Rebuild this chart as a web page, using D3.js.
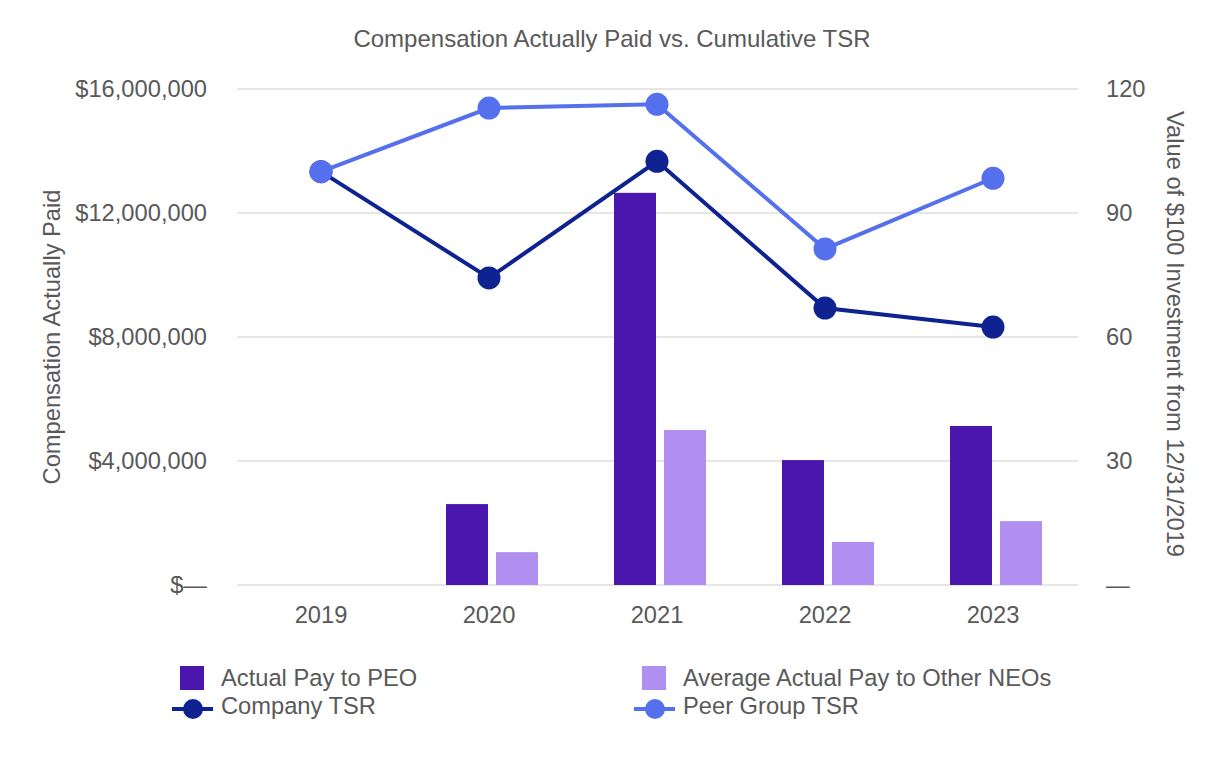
<!DOCTYPE html>
<html><head><meta charset="utf-8">
<script src="https://cdn.jsdelivr.net/npm/d3@7/dist/d3.min.js"></script>
<style>body{margin:0;background:#fff;}svg{display:block;font-family:"Liberation Sans",Arial,sans-serif;}</style>
</head><body><svg id="c" width="1226" height="760"></svg>
<script>
const years = ["2019","2020","2021","2022","2023"];
const peoPay = [0, 2610000, 12650000, 4030000, 5130000];
const neoPay = [0, 1060000, 5000000, 1390000, 2060000];
const companyTSR = [100, 74.3, 102.5, 67.0, 62.4];
const peerTSR = [100, 115.4, 116.3, 81.3, 98.4];
const leftTicks = [0, 4000000, 8000000, 12000000, 16000000];
const rightTicks = [0, 30, 60, 90, 120];

const C = {peo:"#4b16ad", neo:"#b18ff0", comp:"#0e2290", peer:"#5470ec", text:"#595959", grid:"#e6e6e6"};
const FS = 23.7;
const svg = d3.select("#c");
const L = 237, R = 1077, T = 89, B = 585;
const x = d3.scaleBand().domain(years).range([L, R]);
const yL = d3.scaleLinear().domain([0, 16000000]).range([B, T]);
const yR = d3.scaleLinear().domain([0, 120]).range([B, T]);
const cx = d => x(d) + x.bandwidth()/2;

svg.append("text").attr("x", 612).attr("y", 47).attr("text-anchor","middle")
  .attr("font-size", 24).attr("fill", C.text).text("Compensation Actually Paid vs. Cumulative TSR");

// grid
svg.append("g").selectAll("line").data(leftTicks).join("line")
  .attr("x1", L).attr("x2", R+1).attr("y1", d=>yL(d)).attr("y2", d=>yL(d))
  .attr("stroke", C.grid).attr("stroke-width", 2);

// axis labels
const fmtL = d => d===0 ? "$—" : "$" + d3.format(",")(d);
svg.append("g").selectAll("text").data(leftTicks).join("text")
  .attr("x", 207).attr("y", d=>yL(d)).attr("dy","0.35em").attr("text-anchor","end")
  .attr("font-size", FS).attr("fill", C.text).text(fmtL);
svg.append("g").selectAll("text").data(rightTicks).join("text")
  .attr("x", 1106).attr("y", d=>yR(d)).attr("dy","0.35em").attr("text-anchor","start")
  .attr("font-size", FS).attr("fill", C.text).text(d => d===0 ? "—" : d);
svg.append("g").selectAll("text").data(years).join("text")
  .attr("x", d=>cx(d)).attr("y", 615).attr("dy","0.35em").attr("text-anchor","middle")
  .attr("font-size", FS).attr("fill", C.text).text(d=>d);

svg.append("text").attr("transform","translate(60,337) rotate(-90)").attr("text-anchor","middle")
  .attr("font-size", FS).attr("fill", C.text).text("Compensation Actually Paid");
svg.append("text").attr("transform","translate(1167,334) rotate(90)").attr("text-anchor","middle")
  .attr("font-size", FS).attr("fill", C.text).text("Value of $100 Investment from 12/31/2019");

// bars
const bw = 42;
svg.append("g").selectAll("rect").data(years).join("rect")
  .attr("x", d=>cx(d)-43).attr("width", bw)
  .attr("y", (d,i)=>yL(peoPay[i])).attr("height", (d,i)=>B-yL(peoPay[i])).attr("fill", C.peo);
svg.append("g").selectAll("rect").data(years).join("rect")
  .attr("x", d=>cx(d)+7).attr("width", bw)
  .attr("y", (d,i)=>yL(neoPay[i])).attr("height", (d,i)=>B-yL(neoPay[i])).attr("fill", C.neo);

// lines
function series(vals, col){
  const line = d3.line().x((d,i)=>cx(years[i])).y(d=>yR(d));
  svg.append("path").attr("d", line(vals)).attr("fill","none").attr("stroke", col).attr("stroke-width", 4);
  svg.append("g").selectAll("circle").data(vals).join("circle")
    .attr("cx",(d,i)=>cx(years[i])).attr("cy", d=>yR(d)).attr("r", 11.5).attr("fill", col);
}
series(companyTSR, C.comp);
series(peerTSR, C.peer);

// legend
const lg = svg.append("g").attr("font-size", FS).attr("fill", C.text);
lg.append("rect").attr("x",180).attr("y",666).attr("width",24).attr("height",24).attr("fill",C.peo);
lg.append("text").attr("x",221).attr("y",678).attr("dy","0.35em").attr("fill",C.text).text("Actual Pay to PEO");
lg.append("rect").attr("x",642).attr("y",666).attr("width",24).attr("height",24).attr("fill",C.neo);
lg.append("text").attr("x",683).attr("y",678).attr("dy","0.35em").attr("fill",C.text).text("Average Actual Pay to Other NEOs");
function legLine(x0, col, label){
  lg.append("line").attr("x1",x0).attr("x2",x0+41).attr("y1",709).attr("y2",709).attr("stroke",col).attr("stroke-width",4);
  lg.append("circle").attr("cx",x0+21).attr("cy",709).attr("r",10).attr("fill",col);
  lg.append("text").attr("x",x0+49).attr("y",706).attr("dy","0.35em").attr("fill",C.text).text(label);
}
legLine(172, C.comp, "Company TSR");
legLine(634, C.peer, "Peer Group TSR");
</script></body></html>
